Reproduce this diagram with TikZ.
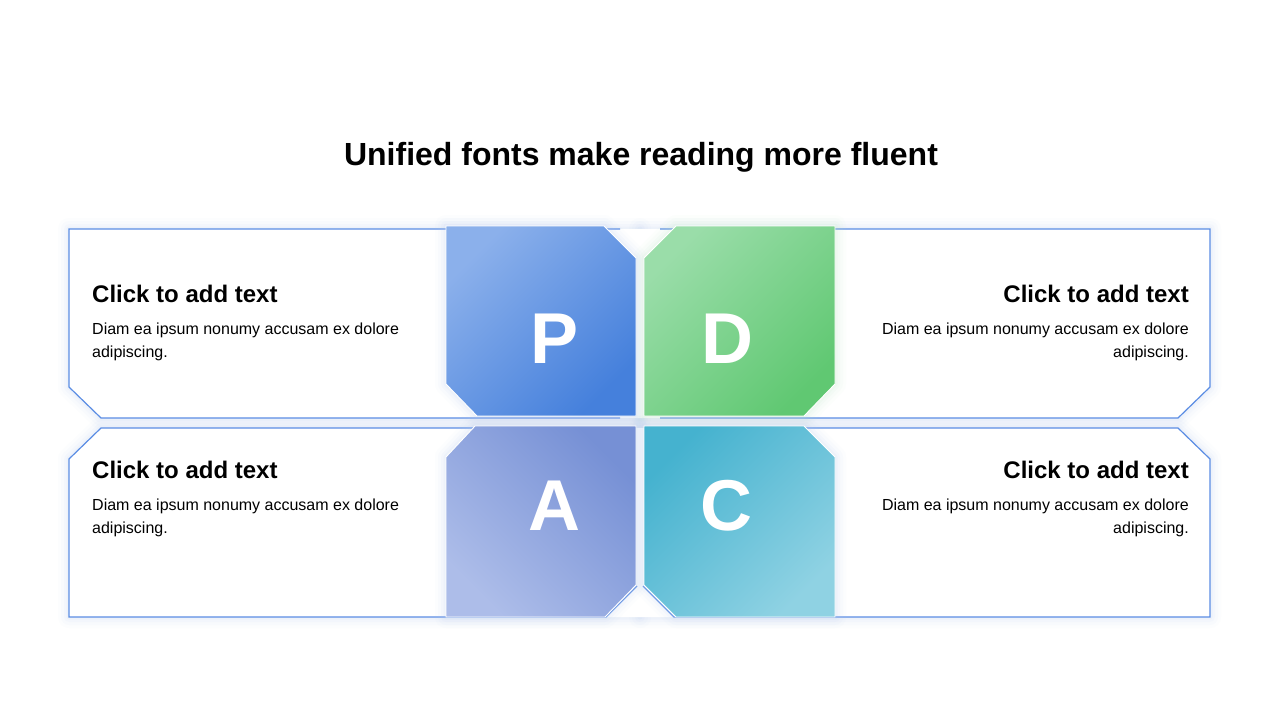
\documentclass[tikz,border=0pt]{standalone}
\usepackage{fontspec}
\setmainfont{Liberation Sans}
\definecolor{boxline}{HTML}{5B8DE4}
\definecolor{glowc}{HTML}{B9CCF0}
\definecolor{glowg}{HTML}{BDE8C6}
\definecolor{Plight}{HTML}{8BB0EB}
\definecolor{Pdark}{HTML}{4580DC}
\definecolor{Dlight}{HTML}{9ADDA9}
\definecolor{Ddark}{HTML}{60C872}
\definecolor{Alight}{HTML}{ADBDE9}
\definecolor{Adark}{HTML}{7690D5}
\definecolor{Clight}{HTML}{8FD2E3}
\definecolor{Cdark}{HTML}{45B2CF}
\tikzset{
  boxedge/.style={draw=boxline, line width=1.2pt, line join=miter},
  boxfill/.style={fill=white},
  sqedge/.style={draw=white, line width=0.9pt},
  letter/.style={text=white, font=\bfseries\fontsize{72}{72}\selectfont, anchor=center},
  heading/.style={font=\bfseries\fontsize{24}{28}\selectfont, inner sep=0pt},
  body/.style={font=\fontsize{16}{23.5}\selectfont, inner sep=0pt},
}
\newcommand\glowit[2]{%
  \foreach \w/\o in {22/0.04,16/0.05,10/0.07,5/0.09}{\draw[#1, line width=\w pt, opacity=\o, line join=round] #2;}}
\begin{document}
\begin{tikzpicture}[x=1pt,y=-1pt]
\useasboundingbox[fill=white] (0,0) rectangle (1280,720);

% title
\node[font=\bfseries\fontsize{32}{36}\selectfont] (title) at (641,157) {Unified fonts make reading more fluent};

% box glows
\glowit{glowc}{(640,229) -- (69,229) -- (69,387) -- (101,418) -- (640,418) -- cycle}
\glowit{glowc}{(640,229) -- (1210,229) -- (1210,387) -- (1178,418) -- (640,418) -- cycle}
\glowit{glowc}{(640,428) -- (101,428) -- (69,459) -- (69,617) -- (640,617) -- cycle}
\glowit{glowc}{(640,428) -- (1178,428) -- (1210,459) -- (1210,617) -- (640,617) -- cycle}

% boxes
\fill[boxfill] (640,229) -- (69,229) -- (69,387) -- (101,418) -- (640,418) -- cycle;
\fill[boxfill] (640,229) -- (1210,229) -- (1210,387) -- (1178,418) -- (640,418) -- cycle;
\fill[boxfill] (640,428) -- (101,428) -- (69,459) -- (69,617) -- (640,617) -- cycle;
\fill[boxfill] (640,428) -- (1178,428) -- (1210,459) -- (1210,617) -- (640,617) -- cycle;
\draw[boxedge] (620,229) -- (69,229) -- (69,387) -- (101,418) -- (620,418);
\draw[boxedge] (660,229) -- (1210,229) -- (1210,387) -- (1178,418) -- (660,418);
\draw[boxedge] (620,428) -- (101,428) -- (69,459) -- (69,617) -- (606,617) -- (637,586);
\draw[boxedge] (660,428) -- (1178,428) -- (1210,459) -- (1210,617) -- (674,617) -- (643,586);

% square glows
\glowit{glowc}{(446,226) -- (604,226) -- (636,258) -- (636,416) -- (477,416) -- (446,384) -- cycle}
\glowit{glowg}{(644,258) -- (676,226) -- (835,226) -- (835,384) -- (804,416) -- (644,416) -- cycle}
\glowit{glowc}{(446,457) -- (475,426) -- (636,426) -- (636,585) -- (605,617) -- (446,617) -- cycle}
\glowit{glowc}{(644,426) -- (804,426) -- (835,457) -- (835,617) -- (676,617) -- (644,585) -- cycle}

% squares
\path[top color=Plight, bottom color=Pdark, shading angle=45, sqedge]
  (446,226) -- (604,226) -- (636,258) -- (636,416) -- (477,416) -- (446,384) -- cycle;
\path[top color=Dlight, bottom color=Ddark, shading angle=45, sqedge]
  (644,258) -- (676,226) -- (835,226) -- (835,384) -- (804,416) -- (644,416) -- cycle;
\path[top color=Adark, bottom color=Alight, shading angle=-45, sqedge]
  (446,457) -- (475,426) -- (636,426) -- (636,585) -- (605,617) -- (446,617) -- cycle;
\path[top color=Cdark, bottom color=Clight, shading angle=45, sqedge]
  (644,426) -- (804,426) -- (835,457) -- (835,617) -- (676,617) -- (644,585) -- cycle;

% letters
\node[letter] (P) at (555,339) {P};
\node[letter] (D) at (727,339) {D};
\node[letter] (A) at (554,506) {A};
\node[letter] (C) at (726,506) {C};

% texts
\node[heading, anchor=base west] (h1) at (92,302) {Click to add text};
\node[body, anchor=base west] (b1a) at (92,334) {Diam ea ipsum nonumy accusam ex dolore};
\node[body, anchor=base west] (b1b) at (92,357) {adipiscing.};

\node[heading, anchor=base east] (h2) at (1189,302) {Click to add text};
\node[body, anchor=base east] (b2a) at (1189,334) {Diam ea ipsum nonumy accusam ex dolore};
\node[body, anchor=base east] (b2b) at (1189,357) {adipiscing.};

\node[heading, anchor=base west] (h3) at (92,478) {Click to add text};
\node[body, anchor=base west] (b3a) at (92,510) {Diam ea ipsum nonumy accusam ex dolore};
\node[body, anchor=base west] (b3b) at (92,533) {adipiscing.};

\node[heading, anchor=base east] (h4) at (1189,478) {Click to add text};
\node[body, anchor=base east] (b4a) at (1189,510) {Diam ea ipsum nonumy accusam ex dolore};
\node[body, anchor=base east] (b4b) at (1189,533) {adipiscing.};
\end{tikzpicture}
\end{document}
